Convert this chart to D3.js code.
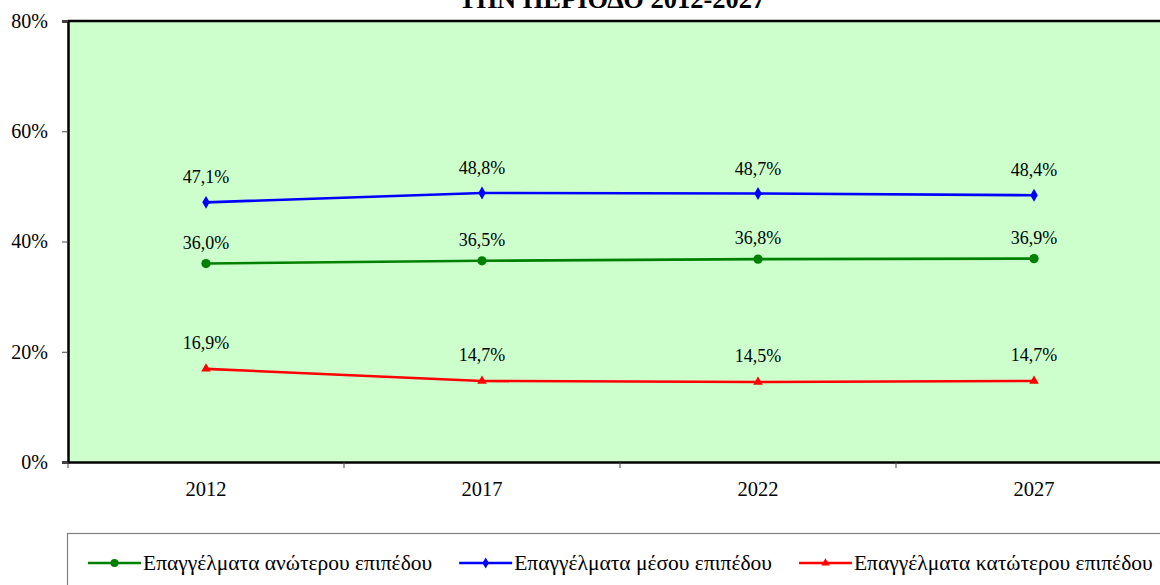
<!DOCTYPE html>
<html>
<head>
<meta charset="utf-8">
<script src="https://cdn.jsdelivr.net/npm/d3@7"></script>
<style>
  body { margin: 0; background: #fff; }
  svg { display: block; }
  svg text { font-family: "Liberation Serif", "Times New Roman", serif; }
</style>
</head>
<body>
<div id="chart"></div>
<script>
// years on the x axis
var years = ["2012", "2017", "2022", "2027"];

// share of employment (%)
var upperLevel = [36.0, 36.5, 36.8, 36.9];
var middleLevel = [47.1, 48.8, 48.7, 48.4];
var lowerLevel = [16.9, 14.7, 14.5, 14.7];

var yTicks = [0, 20, 40, 60, 80];

var seriesNames = [
    "Επαγγέλματα ανώτερου επιπέδου",
    "Επαγγέλματα μέσου επιπέδου",
    "Επαγγέλματα κατώτερου επιπέδου"
];

var titleText = "ΤΗΝ ΠΕΡΙΟΔΟ 2012-2027";

var series = [
    {name: seriesNames[0], values: upperLevel, color: "#008000", symbol: d3.symbolCircle, size: 68, labelDy: -15},
    {name: seriesNames[1], values: middleLevel, color: "#0000FF", symbol: d3.symbolDiamond, size: 48, labelDy: -19},
    {name: seriesNames[2], values: lowerLevel, color: "#FF0000", symbol: d3.symbolTriangle, size: 40, labelDy: -20}
];

var W = 1160, H = 585;
var plot = {left: 68, top: 21, right: 1172, bottom: 462};

var svg = d3.select("#chart").append("svg")
    .attr("width", W)
    .attr("height", H);

var x = d3.scaleBand()
    .domain(years)
    .range([plot.left, plot.right]);

var y = d3.scaleLinear()
    .domain([0, 80])
    .range([plot.bottom, plot.top]);

var fmt = function(v) { return d3.format(".1f")(v).replace(".", ",") + "%"; };

// plot background
svg.append("rect")
    .attr("x", plot.left)
    .attr("y", plot.top)
    .attr("width", plot.right - plot.left)
    .attr("height", plot.bottom - plot.top)
    .attr("fill", "#CCFFCC");

// top border
svg.append("line")
    .attr("x1", plot.left).attr("x2", plot.right)
    .attr("y1", plot.top).attr("y2", plot.top)
    .attr("stroke", "#000").attr("stroke-width", 2.5);

// y axis
var yAxis = svg.append("g")
    .attr("transform", "translate(" + plot.left + ",0)")
    .call(d3.axisLeft(y).tickValues(yTicks).tickSize(6).tickPadding(14)
        .tickFormat(function(d) { return d + "%"; }));
yAxis.select(".domain").attr("stroke", "#000").attr("stroke-width", 2.5);
yAxis.selectAll(".tick line").attr("stroke", "#444").attr("stroke-width", 1);
yAxis.selectAll("text")
    .attr("font-size", 20)
    .attr("fill", "#000");

// x axis: labels centred on categories, ticks between them
var xAxis = svg.append("g")
    .attr("transform", "translate(0," + plot.bottom + ")")
    .call(d3.axisBottom(x).tickSize(0).tickPadding(19));
xAxis.select(".domain").attr("stroke", "#000").attr("stroke-width", 2.5);
xAxis.selectAll("text")
    .attr("font-size", 20.5)
    .attr("fill", "#000");

var bounds = years.map(function(d) { return x(d); }).concat([plot.right]);
xAxis.selectAll(".sep")
    .data(bounds)
    .enter().append("line")
    .attr("class", "sep")
    .attr("x1", function(d) { return d; })
    .attr("x2", function(d) { return d; })
    .attr("y1", 0).attr("y2", 6)
    .attr("stroke", "#444");

// lines, markers, labels
var line = d3.line()
    .x(function(d, i) { return x(years[i]) + x.bandwidth() / 2; })
    .y(function(d) { return y(d); });

series.forEach(function(s) {
    var g = svg.append("g");

    g.append("path")
        .datum(s.values)
        .attr("d", line)
        .attr("fill", "none")
        .attr("stroke", s.color)
        .attr("stroke-width", 2.6);

    g.selectAll(".mk")
        .data(s.values)
        .enter().append("path")
        .attr("class", "mk")
        .attr("d", d3.symbol().type(s.symbol).size(s.size))
        .attr("transform", function(d, i) {
            return "translate(" + (x(years[i]) + x.bandwidth() / 2) + "," + y(d) + ")";
        })
        .attr("fill", s.color);

    g.selectAll(".lbl")
        .data(s.values)
        .enter().append("text")
        .attr("class", "lbl")
        .attr("x", function(d, i) { return x(years[i]) + x.bandwidth() / 2; })
        .attr("y", function(d) { return y(d) + s.labelDy; })
        .attr("text-anchor", "middle")
        .attr("font-size", 18)
        .attr("fill", "#000")
        .text(fmt);
});

// title (its upper part falls outside the picture, as in the source)
svg.append("text")
    .attr("x", 612)
    .attr("y", 8)
    .attr("text-anchor", "middle")
    .attr("font-size", 26.5)
    .attr("font-weight", "bold")
    .attr("fill", "#000")
    .text(titleText);

// legend
var legend = svg.append("g");
legend.append("rect")
    .attr("x", 67.5)
    .attr("y", 533.5)
    .attr("width", 1200)
    .attr("height", 100)
    .attr("fill", "#fff")
    .attr("stroke", "#808080")
    .attr("stroke-width", 1.2);

var lx = 88, ly = 563;
series.forEach(function(s) {
    var item = legend.append("g");
    item.append("line")
        .attr("x1", lx).attr("x2", lx + 53)
        .attr("y1", ly).attr("y2", ly)
        .attr("stroke", s.color)
        .attr("stroke-width", 2.6);
    item.append("path")
        .attr("d", d3.symbol().type(s.symbol).size(s.size * 0.75))
        .attr("transform", "translate(" + (lx + 26.5) + "," + ly + ")")
        .attr("fill", s.color);
    var t = item.append("text")
        .attr("x", lx + 55)
        .attr("y", ly + 7)
        .attr("font-size", 21.5)
        .attr("fill", "#000")
        .text(s.name);
    lx = lx + 55 + t.node().getComputedTextLength() + 27;
});
</script>
</body>
</html>
